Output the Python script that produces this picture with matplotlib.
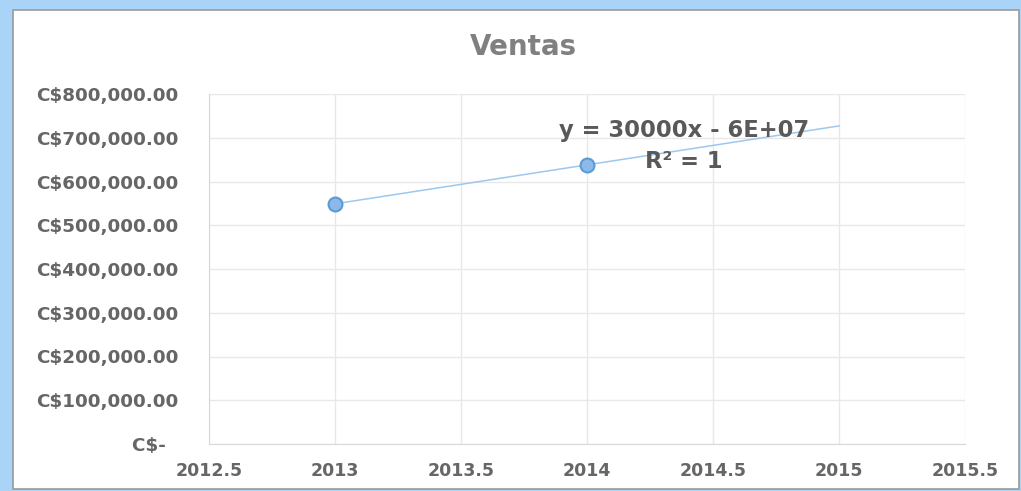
import matplotlib.pyplot as plt
from matplotlib.patches import Rectangle
from matplotlib.ticker import FuncFormatter, MultipleLocator

# data
years = [2013, 2014]
ventas = [549000, 638000]
trend_x = [2013, 2015]
trend_y = [549000, 727000]
x_ticks = [2012.5, 2013, 2013.5, 2014, 2014.5, 2015, 2015.5]

plt.rcParams['font.family'] = ['DejaVu Sans']

fig = plt.figure(figsize=(10.21, 4.91), dpi=100)
fig.patch.set_facecolor('#a9d3f7')
# white chart area inside the blue frame
fig.patches.append(Rectangle((13 / 1021, 2 / 491), 1006 / 1021, 479 / 491,
                             transform=fig.transFigure, facecolor='white',
                             edgecolor='#9a9a9a', linewidth=1.2, zorder=-1))

ax = fig.add_axes([209 / 1021, 47 / 491, 756 / 1021, 350 / 491])
ax.set_facecolor('white')

ax.plot(trend_x, trend_y, color='#9cc8f0', linewidth=1.1, zorder=2)
ax.scatter(years, ventas, s=100, facecolor='#8db8ea', edgecolor='#5b9bd5',
           linewidth=1.5, zorder=3)

ax.set_xlim(2012.5, 2015.5)
ax.set_ylim(0, 800000)
ax.set_xticks(x_ticks)
ax.xaxis.set_major_formatter(FuncFormatter(lambda v, p: f'{v:g}'))
ax.yaxis.set_major_locator(MultipleLocator(100000))


def money(v, pos):
    if v == 0:
        return 'C$-  '
    return f'C${v:,.2f}'


ax.yaxis.set_major_formatter(FuncFormatter(money))
ax.grid(True, color='#e8e8e8', linewidth=1)
ax.set_axisbelow(True)
for side in ['top', 'right']:
    ax.spines[side].set_visible(False)
for side in ['left', 'bottom']:
    ax.spines[side].set_color('#d9d9d9')
ax.tick_params(length=0, labelcolor='#666666')
ax.tick_params(axis='y', pad=22, labelsize=13.2)
ax.tick_params(axis='x', pad=13, labelsize=12.5)
for lab in ax.get_xticklabels() + ax.get_yticklabels():
    lab.set_fontweight('bold')

fig.text(523 / 1021, 1 - 47 / 491, 'Ventas', ha='center', va='center',
         fontsize=20, fontweight='bold', color='#808080')

ax.text(2014.385, 717000, 'y = 30000x - 6E+07', ha='center', va='center',
        fontsize=16.3, fontweight='bold', color='#595959')
ax.text(2014.385, 645000, 'R² = 1', ha='center', va='center',
        fontsize=16.3, fontweight='bold', color='#595959')

fig.savefig('out.png', dpi=100, facecolor=fig.get_facecolor())
